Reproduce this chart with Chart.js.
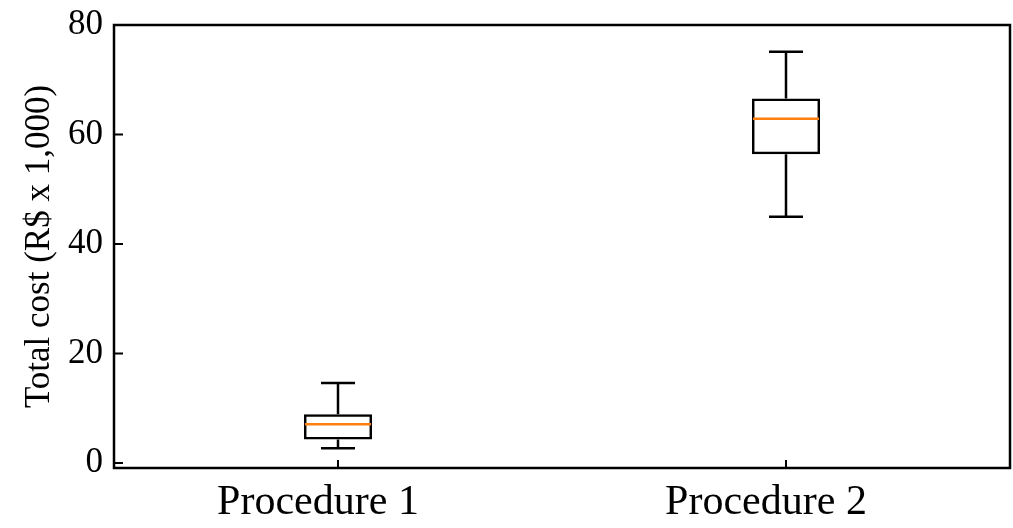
<!DOCTYPE html>
<html>
<head>
<meta charset="utf-8">
<script src="https://cdn.jsdelivr.net/npm/chart.js@4"></script>
<style>
  body { margin: 0; background: #fff; }
</style>
</head>
<body>
<canvas id="boxChart" width="1013" height="528"></canvas>
<script>
// Box plot values (R$ x 1,000)
const procedures = ['Procedure 1', 'Procedure 2'];
const whiskerLow = [2.7, 45.0];
const q1 = [4.3, 56.4];
const median = [7.1, 62.9];
const q3 = [8.9, 66.6];
const whiskerHigh = [14.6, 75.1];
const yTicks = [0, 20, 40, 60, 80];

const serif = "'Liberation Serif', 'Times New Roman', serif";

// whiskers, caps, medians, frame and inward tick marks
const boxExtras = {
  id: 'boxExtras',
  afterDatasetsDraw(chart) {
    const { ctx, chartArea: a, scales: { x, y } } = chart;
    const bars = chart.getDatasetMeta(0).data;
    ctx.save();
    ctx.lineCap = 'butt';
    procedures.forEach((p, i) => {
      const cx = x.getPixelForValue(i);
      const half = bars[i].width / 2;
      const cap = half / 2;
      ctx.strokeStyle = '#000';
      ctx.lineWidth = 2.5;
      ctx.beginPath();
      ctx.moveTo(cx, y.getPixelForValue(q3[i]));
      ctx.lineTo(cx, y.getPixelForValue(whiskerHigh[i]));
      ctx.moveTo(cx, y.getPixelForValue(q1[i]));
      ctx.lineTo(cx, y.getPixelForValue(whiskerLow[i]));
      ctx.moveTo(cx - cap, y.getPixelForValue(whiskerHigh[i]));
      ctx.lineTo(cx + cap, y.getPixelForValue(whiskerHigh[i]));
      ctx.moveTo(cx - cap, y.getPixelForValue(whiskerLow[i]));
      ctx.lineTo(cx + cap, y.getPixelForValue(whiskerLow[i]));
      ctx.stroke();
      ctx.strokeStyle = '#ff7f0e';
      ctx.beginPath();
      ctx.moveTo(cx - half + 1, y.getPixelForValue(median[i]));
      ctx.lineTo(cx + half - 1, y.getPixelForValue(median[i]));
      ctx.stroke();
    });
    ctx.strokeStyle = '#000';
    ctx.lineWidth = 2.5;
    ctx.strokeRect(a.left, a.top, a.right - a.left, a.bottom - a.top);
    ctx.lineWidth = 2;
    ctx.beginPath();
    y.ticks.forEach(t => {
      const py = y.getPixelForValue(t.value);
      ctx.moveTo(a.left, py);
      ctx.lineTo(a.left + 9, py);
    });
    procedures.forEach((p, i) => {
      const px = x.getPixelForValue(i);
      ctx.moveTo(px, a.bottom);
      ctx.lineTo(px, a.bottom - 8);
    });
    ctx.stroke();
    ctx.restore();
  }
};

new Chart(document.getElementById('boxChart'), {
  type: 'bar',
  data: {
    labels: procedures,
    datasets: [{
      data: q1.map((v, i) => [v, q3[i]]),
      backgroundColor: 'rgba(255,255,255,0)',
      borderColor: '#000',
      borderWidth: 2.5,
      borderSkipped: false,
      barPercentage: 0.152,
      categoryPercentage: 1
    }]
  },
  options: {
    responsive: false,
    animation: false,
    layout: { padding: { top: 25, right: 3, left: 0, bottom: 0 } },
    plugins: { legend: { display: false }, tooltip: { enabled: false } },
    scales: {
      x: {
        offset: true,
        grid: { display: false, drawTicks: false },
        border: { display: false },
        ticks: { color: '#000', padding: 10, labelOffset: -20, font: { family: serif, size: 42 } },
        afterFit: s => { s.height = 60; s.paddingLeft = 0; s.paddingRight = 0; }
      },
      y: {
        min: -0.9,
        max: 80,
        grid: { display: false, drawTicks: false },
        border: { display: false },
        afterBuildTicks: s => { s.ticks = yTicks.map(v => ({ value: v })); },
        ticks: { color: '#000', padding: 11, font: { family: serif, size: 35 } },
        title: {
          display: true,
          text: 'Total cost (R$ x 1,000)',
          color: '#000',
          padding: { top: 19, bottom: 0 },
          font: { family: serif, size: 35 }
        },
        afterFit: s => { s.width = 114; s.paddingTop = 0; s.paddingBottom = 0; }
      }
    }
  },
  plugins: [boxExtras]
});
</script>
</body>
</html>
